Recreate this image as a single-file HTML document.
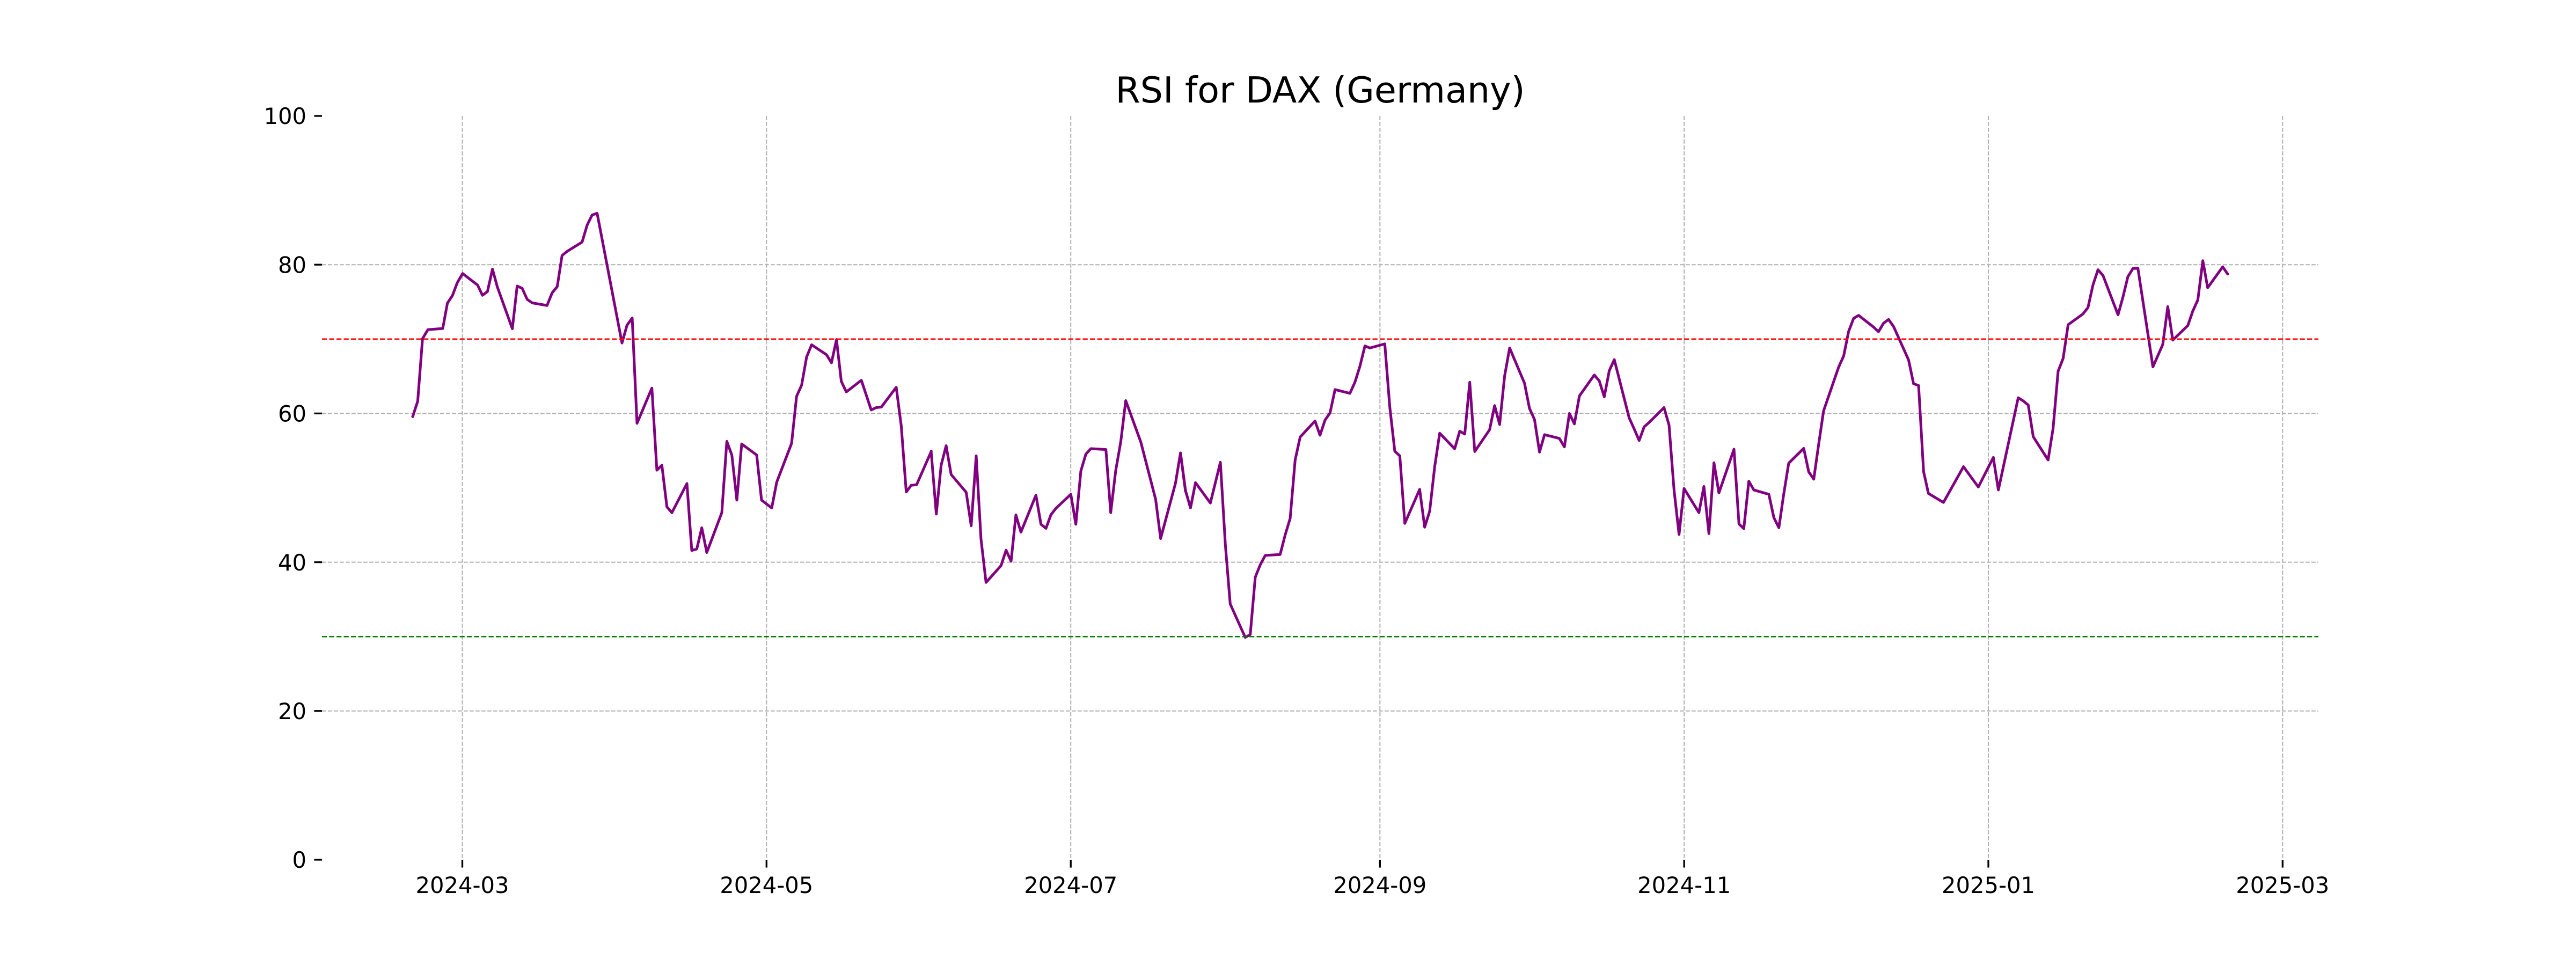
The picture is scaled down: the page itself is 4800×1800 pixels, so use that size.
<!DOCTYPE html>
<html>
<head>
<meta charset="utf-8">
<style>
html,body{margin:0;padding:0;background:#ffffff;}
svg{display:block;}
</style>
</head>
<body>
<svg xmlns="http://www.w3.org/2000/svg" width="4800" height="1800" viewBox="0 0 4800 1800" font-family="'DejaVu Sans', 'Liberation Sans', sans-serif">
<rect x="0" y="0" width="4800" height="1800" fill="#ffffff"/>

<!-- vertical grid -->
<g stroke="#b0b0b0" stroke-width="2" stroke-dasharray="7.7 3.3" fill="none">
<line x1="861.5" y1="216" x2="861.5" y2="1602"/>
<line x1="1428.3" y1="216" x2="1428.3" y2="1602"/>
<line x1="1995.2" y1="216" x2="1995.2" y2="1602"/>
<line x1="2571.3" y1="216" x2="2571.3" y2="1602"/>
<line x1="3138.2" y1="216" x2="3138.2" y2="1602"/>
<line x1="3705" y1="216" x2="3705" y2="1602"/>
<line x1="4253.3" y1="216" x2="4253.3" y2="1602"/>
</g>
<!-- horizontal grid -->
<g stroke="#b0b0b0" stroke-width="2" stroke-dasharray="7.7 3.3" fill="none">
<line x1="600" y1="493.2" x2="4320" y2="493.2"/>
<line x1="600" y1="770.4" x2="4320" y2="770.4"/>
<line x1="600" y1="1047.6" x2="4320" y2="1047.6"/>
<line x1="600" y1="1324.8" x2="4320" y2="1324.8"/>
</g>

<!-- RSI line -->
<g fill="none" stroke="#800080" stroke-linejoin="round" stroke-linecap="round">
<g transform="translate(750 360) scale(0.333333 0.542092)">
<polyline vector-effect="non-scaling-stroke" stroke-width="5" points="57,768 85,715 112,500 142,469 225,465 251,378 279,352 306,308 336,276 420,316 447,351 475,338 503,261 530,322 614,466 641,319 669,327 697,365 725,377 808,386 836,343 865,321 892,214 920,200 1004,168 1032,110 1060,75 1088,69 1227,515 1255,454 1284,429 1311,791 1394,670 1422,952 1450,935 1478,1078 1506,1098"/>
</g>
<g transform="translate(1230 360) scale(0.333333 0.542092)">
<polyline vector-effect="non-scaling-stroke" stroke-width="5" points="38,1078 66,1098 150,998 177,1228 205,1223 233,1150 261,1235 345,1098 373,853 401,900 429,1055 456,862 540,900 567,1055 624,1082 652,993 735,860 763,698 791,660 819,563 847,521 930,555 958,583 986,503 1013,647 1041,683 1125,643 1180,745 1208,737 1237,735 1320,667 1348,800 1376,1027 1404,1004 1434,1002 1516,887"/>
</g>
<g transform="translate(1710 360) scale(0.333333 0.542092)">
<polyline vector-effect="non-scaling-stroke" stroke-width="5" points="75,887 104,1103 131,935 159,868 187,967 271,1028 299,1143 327,903 354,1190 382,1338 466,1280 494,1227 522,1265 549,1106 577,1165 661,1038 689,1138 717,1152 745,1105 773,1083 856,1035 884,1138 912,955 940,897 968,878 1052,881 1079,1098 1107,953 1135,855 1163,713 1247,855 1330,1052 1358,1187 1441,997 1469,893 1497,1025"/>
</g>
<g transform="translate(2190 360) scale(0.333333 0.542092)">
<polyline vector-effect="non-scaling-stroke" stroke-width="5" points="29,893 57,1022 85,1082 113,995 196,1065 252,925 280,1210 307,1412 391,1527 419,1517 447,1320 475,1277 503,1245 586,1242 614,1175 642,1118 670,917 698,838 781,783 809,832 837,780 865,755 893,675 976,688 1004,650 1032,595 1060,525 1088,532 1171,518 1199,735 1227,887 1255,903 1283,1135 1366,1018 1394,1148 1422,1093 1450,940 1478,825 1561,878"/>
</g>
<g transform="translate(2690 360) scale(0.333333 0.542092)">
<polyline vector-effect="non-scaling-stroke" stroke-width="5" points="62,878 90,818 118,828 146,650 174,888 257,813 285,730 313,795 341,628 369,532 452,653 480,740 508,778 536,890 564,830 647,843 675,872 703,757 731,793 759,697 842,625 870,645 898,700 926,610 954,572 1037,772 1065,810 1093,850 1121,803 1149,788 1232,737 1260,797 1288,1020 1316,1173 1344,1015 1427,1098 1455,1008 1483,1170 1511,927 1539,1030"/>
</g>
<g transform="translate(3190 360) scale(0.333333 0.542092)">
<polyline vector-effect="non-scaling-stroke" stroke-width="5" points="11,927 39,1030 123,880 151,1137 178,1153 206,990 234,1020 318,1035 346,1115 374,1150 401,1035 429,928 513,877 541,958 569,983 596,865 624,748 708,598 736,560 764,475 792,430 820,420 903,460 931,476 959,447 987,434 1015,458 1099,573 1127,655 1155,661 1183,957 1210,1032 1294,1063 1406,940 1489,1010 1573,908"/>
</g>
<g transform="translate(3690 360) scale(0.333333 0.542092)">
<polyline vector-effect="non-scaling-stroke" stroke-width="5" points="73,910 101,1020 184,783 212,703 240,714 268,728 296,837 379,917 407,808 435,612 463,568 491,452 574,415 602,393 630,315 658,263 686,283 770,418 797,358 825,287 853,259 881,258 965,597 1020,520 1048,390 1076,505 1160,455 1188,405 1216,367 1244,232 1271,325 1355,253 1383,278"/>
</g>
</g>

<!-- overbought / oversold lines -->
<line x1="600" y1="631.8" x2="4320" y2="631.8" stroke="#ff0000" stroke-width="2.5" stroke-dasharray="9.3 4.2"/>
<line x1="600" y1="1186.2" x2="4320" y2="1186.2" stroke="#008000" stroke-width="2.5" stroke-dasharray="9.3 4.2"/>

<!-- y ticks -->
<g stroke="#000000" stroke-width="3.3">
<line x1="585.4" y1="216" x2="600" y2="216"/>
<line x1="585.4" y1="493.2" x2="600" y2="493.2"/>
<line x1="585.4" y1="770.4" x2="600" y2="770.4"/>
<line x1="585.4" y1="1047.6" x2="600" y2="1047.6"/>
<line x1="585.4" y1="1324.8" x2="600" y2="1324.8"/>
<line x1="585.4" y1="1602" x2="600" y2="1602"/>
</g>
<!-- x ticks -->
<g stroke="#000000" stroke-width="3.3">
<line x1="861.5" y1="1602" x2="861.5" y2="1616.6"/>
<line x1="1428.3" y1="1602" x2="1428.3" y2="1616.6"/>
<line x1="1995.2" y1="1602" x2="1995.2" y2="1616.6"/>
<line x1="2571.3" y1="1602" x2="2571.3" y2="1616.6"/>
<line x1="3138.2" y1="1602" x2="3138.2" y2="1616.6"/>
<line x1="3705" y1="1602" x2="3705" y2="1616.6"/>
<line x1="4253.3" y1="1602" x2="4253.3" y2="1616.6"/>
</g>

<!-- y tick labels -->
<g font-size="41.67" fill="#000000" text-anchor="end">
<text x="571" y="231.2">100</text>
<text x="571" y="508.4">80</text>
<text x="571" y="785.6">60</text>
<text x="571" y="1062.8">40</text>
<text x="571" y="1340">20</text>
<text x="571" y="1617.2">0</text>
</g>

<!-- x tick labels -->
<g font-size="41.67" fill="#000000" text-anchor="middle">
<text x="861.5" y="1664">2024-03</text>
<text x="1428.3" y="1664">2024-05</text>
<text x="1995.2" y="1664">2024-07</text>
<text x="2571.3" y="1664">2024-09</text>
<text x="3138.2" y="1664">2024-11</text>
<text x="3705" y="1664">2025-01</text>
<text x="4253.3" y="1664">2025-03</text>
</g>

<!-- title -->
<text x="2460" y="191" font-size="66.67" text-anchor="middle" fill="#000000">RSI for DAX (Germany)</text>
</svg>
</body>
</html>
